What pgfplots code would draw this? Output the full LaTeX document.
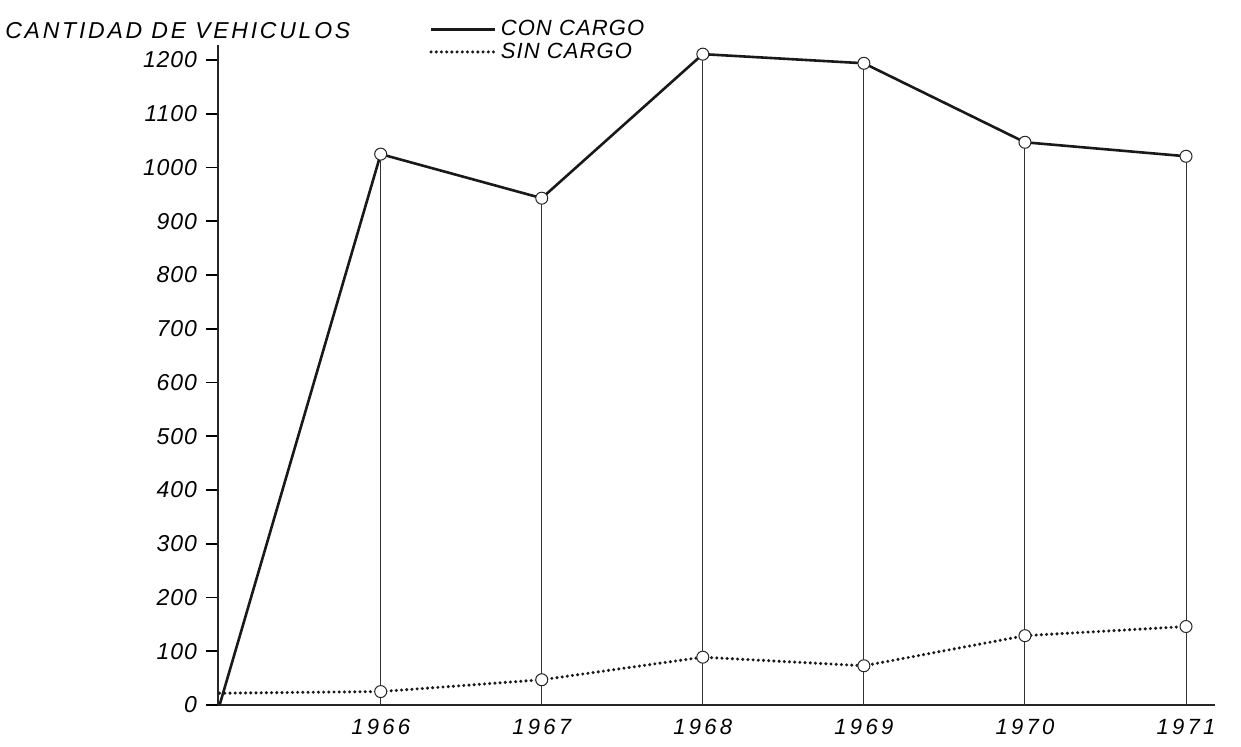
\documentclass[border=0pt]{standalone}
\usepackage{fontspec}
\setmainfont{Liberation Sans}
\newfontfamily\labA[LetterSpace=12]{Liberation Sans}
\newfontfamily\labB[LetterSpace=4]{Liberation Sans}
\newfontfamily\labC[LetterSpace=15]{Liberation Sans}
\newfontfamily\labD[LetterSpace=5]{Liberation Sans}
\usepackage{pgfplots}
\pgfplotsset{compat=1.18}
\pgfplotstableread{
year con sin
1965 0 22
1966 1025 25
1967 943 47
1968 1211 89
1969 1194 73
1970 1047 129
1971 1021 146
}\datatab
\begin{document}
\begin{tikzpicture}
\useasboundingbox (0pt,0pt) rectangle (620.5pt,373pt);
\fill[white] (0pt,0pt) rectangle (620.5pt,373pt);
\begin{axis}[
  at={(109pt,20.5pt)}, anchor=south west,
  scale only axis, width=498.5pt, height=330pt,
  xmin=1964.99, xmax=1971.18, ymin=0, ymax=1228,
  axis lines=left, axis line style={-, line width=1pt, black!85},
  xtick={1966,1967,1968,1969,1970,1971},
  xticklabels={1966,1967,1968,1969,1970,1971},
  ytick={0,100,200,300,400,500,600,700,800,900,1000,1100,1200},
  yticklabels={0,100,200,300,400,500,600,700,800,900,1000,1100,1200},
  x tick style={draw=none},
  y tick style={line width=0.8pt, black},
  tick align=outside, major tick length=6pt,
  xticklabel style={font=\fontsize{11}{13}\selectfont\labC\itshape, yshift=2.5pt},
  yticklabel style={font=\fontsize{11.5}{13}\selectfont\labB\itshape, xshift=-1pt},
  clip=false,
  legend style={at={(0.2056,1.05)}, anchor=north west, draw=none, fill=none,
    font=\fontsize{11}{13}\selectfont\labD\itshape, row sep=-2pt,
    /tikz/every even column/.append style={column sep=2pt}},
  legend cell align=left,
]
\addplot[ycomb, line width=0.5pt, black!80, forget plot] table[x=year,y=con] {\datatab};
\addplot[line width=1.3pt, black!90, mark=*, mark indices={2,3,4,5,6,7},
  mark options={solid, fill=white, draw=black!85, line width=0.5pt, scale=1.5},
  legend image code/.code={\draw[line width=1.3pt, black!90] (0pt,0pt) -- (32pt,0pt);}]
  table[x=year,y=con] {\datatab};
\addlegendentry{CON CARGO}
\addplot[line width=1.7pt, black!90, line cap=round, dash pattern=on 0pt off 2.6pt, mark=*, mark indices={2,3,4,5,6,7},
  mark options={solid, fill=white, draw=black!85, line width=0.5pt, scale=1.5},
  legend image code/.code={\draw[line width=1.7pt, black!90, line cap=round, dash pattern=on 0pt off 2.6pt] (0pt,0pt) -- (32pt,0pt);}]
  table[x=year,y=sin] {\datatab};
\addlegendentry{SIN CARGO}
\end{axis}
\node[anchor=west, inner sep=0pt, font=\fontsize{11.5}{13}\selectfont\labA\itshape] at (2.5pt,357.5pt) {CANTIDAD DE VEHICULOS};
\end{tikzpicture}
\end{document}
